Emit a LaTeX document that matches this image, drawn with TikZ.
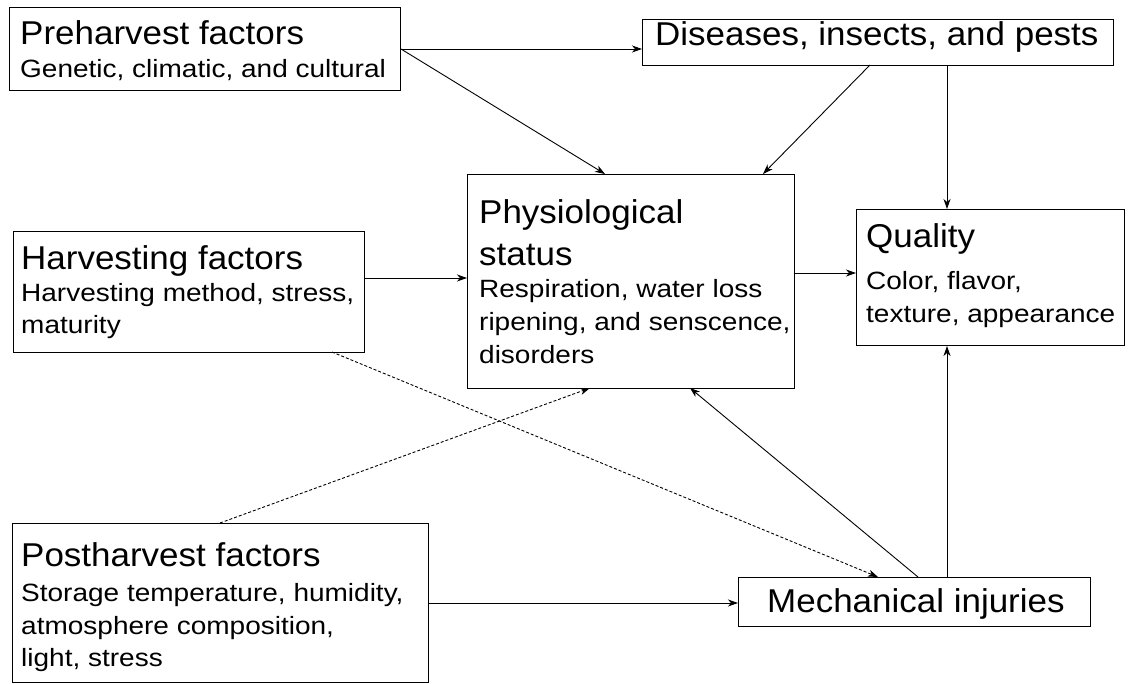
\documentclass[tikz,border=0pt]{standalone}
\usepackage{fontspec}
\setmainfont{Liberation Sans}
\newfontfamily\bigfont[FakeStretch=1.06]{Liberation Sans}
\newfontfamily\smallfont[FakeStretch=1.12]{Liberation Sans}
\usetikzlibrary{arrows.meta}
\begin{document}
\begin{tikzpicture}[x=1pt,y=-1pt,
  box/.style={draw, line width=1pt, inner sep=0pt, anchor=north west},
  ttl/.style={anchor=base west, inner sep=0pt, font=\bigfont\fontsize{33}{38}\selectfont},
  sub/.style={anchor=base west, inner sep=0pt, font=\smallfont\fontsize{25}{30}\selectfont},
  arr/.style={line width=0.9pt, -{Stealth[length=10pt,width=7pt,inset=3pt]}},
  darr/.style={arr, dash pattern=on 3pt off 2pt}]
\fill[white] (0,0) rectangle (1128,684);
\useasboundingbox (0,0) rectangle (1128,684);

% boxes
\node[box, minimum width=391pt, minimum height=83pt] (pre) at (9,7) {};
\node[box, minimum width=471pt, minimum height=46pt] (dis) at (642,19) {};
\node[box, minimum width=327pt, minimum height=214pt] (phys) at (467,174) {};
\node[box, minimum width=351pt, minimum height=121pt] (harv) at (13,231) {};
\node[box, minimum width=268pt, minimum height=136pt] (qual) at (856,209) {};
\node[box, minimum width=416pt, minimum height=159pt] (post) at (12,523) {};
\node[box, minimum width=352pt, minimum height=49pt] (mech) at (738,577) {};

% texts
\node[ttl] (preT) at (20,45) {Preharvest factors};
\node[sub] (preS) at (20,78) {Genetic, climatic, and cultural};
\node[ttl] (disT) at (655,46) {Diseases, insects, and pests};
\node[ttl] (physT1) at (479,224) {Physiological};
\node[ttl] (physT2) at (479,266) {status};
\node[sub] (physS1) at (479,298) {Respiration, water loss};
\node[sub] (physS2) at (479,331) {ripening, and senscence,};
\node[sub] (physS3) at (479,364) {disorders};
\node[ttl] (harvT) at (21,270) {Harvesting factors};
\node[sub] (harvS1) at (21,302) {Harvesting method, stress,};
\node[sub] (harvS2) at (21,334) {maturity};
\node[ttl] (qualT) at (866,248) {Quality};
\node[sub] (qualS1) at (866,290) {Color, flavor,};
\node[sub] (qualS2) at (866,323) {texture, appearance};
\node[ttl] (postT) at (21,566) {Postharvest factors};
\node[sub] (postS1) at (21,601) {Storage temperature, humidity,};
\node[sub] (postS2) at (21,634) {atmosphere composition,};
\node[sub] (postS3) at (21,666) {light, stress};
\node[ttl] (mechT) at (767,612) {Mechanical injuries};

% connector end points
\coordinate (pA) at (605,174);
\coordinate (pB) at (763,174);
\coordinate (dS) at (870,65);
\coordinate (pC) at (590,388);
\coordinate (pD) at (690,388);
\coordinate (hS) at (332,352);
\coordinate (mA) at (878,577);
\coordinate (mB) at (918,577);
\coordinate (psT) at (220,523);
\coordinate (qx) at (947,0);
\coordinate (hy) at (0,278);
\coordinate (qy) at (0,273);

% connectors
\draw[arr] (pre.east) -- (pre.east -| dis.west);
\draw[arr] (pre.east) -- (pA);
\draw[arr] (dS) -- (pB);
\draw[arr] (dis.south -| qx) -- (qual.north -| qx);
\draw[arr] (harv.east |- hy) -- (phys.west |- hy);
\draw[arr] (phys.east |- qy) -- (qual.west |- qy);
\draw[darr] (hS) -- (mA);
\draw[darr] (psT) -- (pC);
\draw[arr] (mB) -- (pD);
\draw[arr] (mech.north -| qx) -- (qual.south -| qx);
\draw[arr] (post.east) -- (post.east -| mech.west);
\end{tikzpicture}
\end{document}
